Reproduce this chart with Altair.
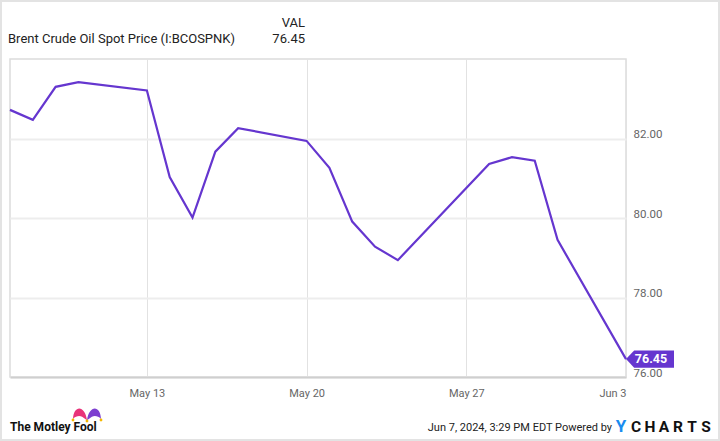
import altair as alt
import pandas as pd

# ---- data ----
dates = ["2024-05-07", "2024-05-08", "2024-05-09", "2024-05-10",
         "2024-05-13", "2024-05-14", "2024-05-15", "2024-05-16", "2024-05-17",
         "2024-05-20", "2024-05-21", "2024-05-22", "2024-05-23", "2024-05-24",
         "2024-05-28", "2024-05-29", "2024-05-30", "2024-05-31",
         "2024-06-03"]
prices = [82.72, 82.47, 83.30, 83.42,
          83.21, 81.03, 80.01, 81.67, 82.26,
          81.94, 81.26, 79.91, 79.28, 78.94,
          81.36, 81.53, 81.44, 79.45,
          76.45]
y_ticks = [76, 78, 80, 82]
x_ticks = [(5, 13), (5, 20), (5, 27), (6, 3)]
series_name = "Brent Crude Oil Spot Price (I:BCOSPNK)"

PURPLE = "#6536cf"
FONT = "Roboto"

df = pd.DataFrame({"date": dates, "price": prices})
last = df.tail(1)

x_scale = alt.Scale(
    type="utc",
    domain=[alt.DateTime(year=2024, month=5, date=7, utc=True),
            alt.DateTime(year=2024, month=6, date=3, utc=True)],
)
y_scale = alt.Scale(domain=[76, 84], nice=False, zero=False)

x_enc = alt.X(
    "date:T", scale=x_scale, title=None,
    axis=alt.Axis(
        values=[alt.DateTime(year=2024, month=m, date=d, utc=True) for m, d in x_ticks],
        labelExpr="utcFormat(datum.value, '%b %-d')",
        grid=True, gridColor="#e2e2e2", gridWidth=1,
        ticks=False, domainColor="#cfcfcf", domainWidth=2,
        labelColor="#666666", labelFont=FONT, labelFontSize=11, labelPadding=10,
    ),
)
y_enc = alt.Y(
    "price:Q", scale=y_scale, title=None,
    axis=alt.Axis(
        orient="right", values=y_ticks, format=".2f",
        grid=True, gridColor="#ededed", gridWidth=2,
        ticks=False, domain=False,
        labelColor="#666666", labelFont=FONT, labelFontSize=11.5,
        labelPadding=7, labelBaseline="alphabetic", labelOffset=-1,
    ),
)

base = alt.Chart(df)
line = base.mark_line(color=PURPLE, strokeWidth=2.2).encode(x=x_enc, y=y_enc)

tag_shape = "M0,0L0.17,-0.18L1,-0.18L1,0.18L0.17,0.18Z"
tag = alt.Chart(last).mark_point(
    shape=tag_shape, filled=True, size=9216, color=PURPLE, opacity=1, strokeWidth=0
).encode(x=alt.X("date:T"), y=alt.Y("price:Q"))
tag_text = alt.Chart(last).mark_text(
    dx=25, color="white", fontWeight="bold", fontSize=12.5, font=FONT,
    align="center", baseline="middle"
).encode(x=alt.X("date:T"), y=alt.Y("price:Q"), text=alt.Text("price:Q", format=".2f"))


def one(txt):
    return alt.Chart(pd.DataFrame({"t": [txt]}))


# header
title_t = one(series_name).mark_text(
    align="left", baseline="middle", fontSize=13, font=FONT, color="#222222"
).encode(x=alt.value(-2), y=alt.value(-20), text="t:N")
val_hdr = one("VAL").mark_text(
    align="right", baseline="middle", fontSize=13, font=FONT, color="#222222"
).encode(x=alt.value(295), y=alt.value(-36), text="t:N")
val_num = one(f"{prices[-1]:.2f}").mark_text(
    align="right", baseline="middle", fontSize=13, font=FONT, color="#222222"
).encode(x=alt.value(295), y=alt.value(-20), text="t:N")

# footer left: Motley Fool
fool_t = one("The Motley Fool").mark_text(
    align="left", baseline="middle", fontSize=12, font=FONT, fontWeight="bold", color="#111111"
).encode(x=alt.value(0), y=alt.value(368), text="t:N")
hump_l = "M-1,0.7C-0.9,-1.3 0.7,-1.3 1,0.9L0.3,0.4C-0.1,0.2 -0.6,0.3 -1,0.7Z"
hump_r = "M1,0.7C0.9,-1.3 -0.7,-1.3 -1,0.9L-0.3,0.4C0.1,0.2 0.6,0.3 1,0.7Z"
pink = one("p").mark_point(shape=hump_l, filled=True, size=196, color="#e8337a", opacity=1).encode(
    x=alt.value(70), y=alt.value(355))
violet = one("v").mark_point(shape=hump_r, filled=True, size=196, color="#7d3fd0", opacity=1).encode(
    x=alt.value(84), y=alt.value(355))
dots = [one("d").mark_point(shape="circle", filled=True, size=8, color="#f5b800", opacity=1).encode(
    x=alt.value(xx), y=alt.value(yy)) for xx, yy in [(63, 361), (77, 362), (91, 361)]]

# footer right
stamp = one("Jun 7, 2024, 3:29 PM EDT  Powered by").mark_text(
    align="right", baseline="middle", fontSize=11, font=FONT, color="#222222"
).encode(x=alt.value(602), y=alt.value(369), text="t:N")
y_logo = one("Y").mark_text(
    align="center", baseline="middle", fontSize=17, font=FONT, fontWeight="bold", color="#1a8cf0"
).encode(x=alt.value(611), y=alt.value(368), text="t:N")
letters = []
for ch, xx in zip("CHARTS", [626, 640, 654, 668, 682, 696]):
    letters.append(one(ch).mark_text(
        align="center", baseline="middle", fontSize=15.5, font=FONT, fontWeight="bold", color="#111111"
    ).encode(x=alt.value(xx), y=alt.value(368), text="t:N"))

frame = one("f").mark_rect(filled=False, stroke="#e3e3e3", strokeWidth=2).encode(
    x=alt.value(-9), x2=alt.value(709), y=alt.value(-58), y2=alt.value(381))

chart = alt.layer(
    line, tag, tag_text, title_t, val_hdr, val_num,
    fool_t, pink, violet, *dots, stamp, y_logo, *letters, frame
).properties(
    width=616, height=318,
    autosize=alt.AutoSizeParams(type="none"),
    padding={"left": 10, "top": 59, "right": 94, "bottom": 64},
    background="white",
).configure_view(stroke="#dcdcdc", strokeWidth=1.5)

chart.save("out.html", embed_options={"renderer": "svg", "actions": False})
